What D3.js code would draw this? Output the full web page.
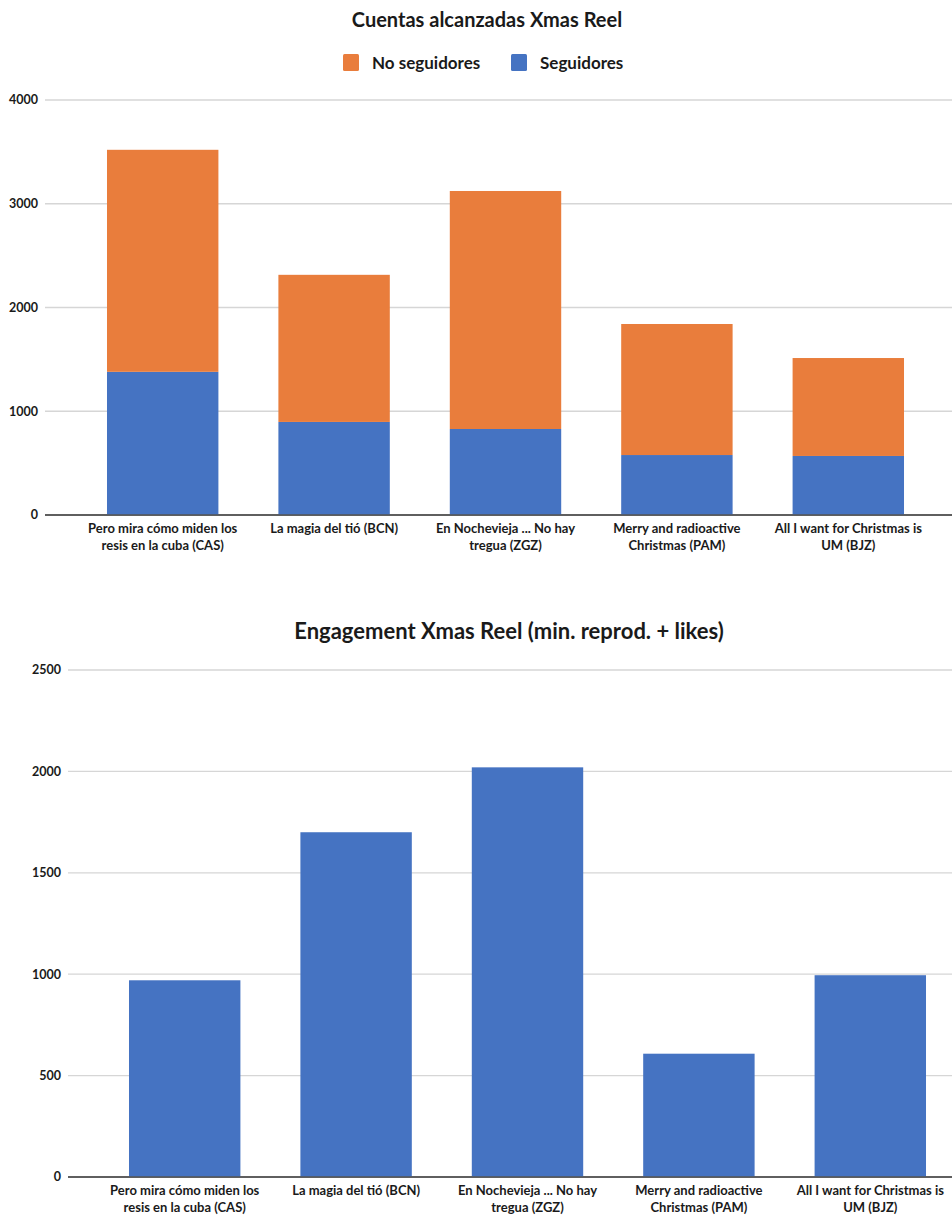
<!DOCTYPE html>
<html>
<head>
<meta charset="utf-8">
<script src="https://cdn.jsdelivr.net/npm/d3@7"></script>
<style>
  body { margin: 0; background: #fff; }
  svg text { font-family: Lato, "Open Sans", sans-serif; font-weight: 700; fill: #1a1a1a; }
</style>
</head>
<body>
<div id="chart"></div>
<script>
const categories = [
  "Pero mira cómo miden los\nresis en la cuba (CAS)",
  "La magia del tió (BCN)",
  "En Nochevieja ... No hay\ntregua (ZGZ)",
  "Merry and radioactive\nChristmas (PAM)",
  "All I want for Christmas is\nUM (BJZ)"
];
const seguidores = [1380, 897, 829, 578, 569];
const noSeguidores = [2140, 1418, 2294, 1263, 944];
const engagement = [970, 1700, 2020, 608, 995];
const reachTicks = [0, 1000, 2000, 3000, 4000];
const engagementTicks = [0, 500, 1000, 1500, 2000, 2500];

const orange = "#e97d3c";
const blue = "#4573c2";

const svg = d3.select("#chart").append("svg")
    .attr("width", 952)
    .attr("height", 1217);

function wrapLabels(sel) {
    sel.each(function(d) {
        const t = d3.select(this);
        const lines = d.split("\n");
        t.text(null);
        lines.forEach((l, i) => {
            t.append("tspan")
                .attr("x", 0)
                .attr("dy", i === 0 ? 0 : 17)
                .text(l);
        });
    });
}

function drawAxes(g, x, y, ticks, gridLeft, labelX) {
    const yAxis = g.append("g");
    yAxis.selectAll("line.grid")
        .data(ticks)
        .join("line")
        .attr("class", "grid")
        .attr("x1", gridLeft)
        .attr("x2", 952)
        .attr("y1", d => y(d))
        .attr("y2", d => y(d))
        .attr("stroke", d => d === 0 ? "#555" : "#d6d6d6")
        .attr("stroke-width", d => d === 0 ? 1.6 : 1.3);
    yAxis.selectAll("text.tick")
        .data(ticks)
        .join("text")
        .attr("class", "tick")
        .attr("x", labelX)
        .attr("y", d => y(d))
        .attr("dy", "0.35em")
        .attr("text-anchor", "end")
        .attr("font-size", 12.5)
        .text(d => d);
}

function drawXLabels(g, x, baseY) {
    g.append("g")
        .selectAll("text")
        .data(categories)
        .join("text")
        .attr("transform", d => `translate(${x(d) + x.bandwidth() / 2}, ${baseY + 18})`)
        .attr("text-anchor", "middle")
        .attr("font-size", 13)
        .call(wrapLabels);
}

// ---- chart 1: stacked reach ----
const g1 = svg.append("g");
const x1 = d3.scaleBand().domain(categories).range([77, 934]).paddingInner(0.35).paddingOuter(0.175);
const y1 = d3.scaleLinear().domain([0, 4000]).range([515, 100]);

g1.append("text")
    .attr("x", 487).attr("y", 27)
    .attr("text-anchor", "middle")
    .attr("font-size", 20)
    .text("Cuentas alcanzadas Xmas Reel");

const legendItems = [
    {label: "No seguidores", color: orange, x: 343},
    {label: "Seguidores", color: blue, x: 511}
];
const legend = g1.append("g").selectAll("g").data(legendItems).join("g")
    .attr("transform", d => `translate(${d.x}, 54)`);
legend.append("rect").attr("width", 16).attr("height", 17).attr("rx", 1.5).attr("fill", d => d.color);
legend.append("text").attr("x", 29).attr("y", 15).attr("font-size", 17).text(d => d.label);

drawAxes(g1, x1, y1, reachTicks, 45, 38);

const stackData = categories.map((c, i) => ({cat: c, seguidores: seguidores[i], noSeguidores: noSeguidores[i]}));
const stack = d3.stack().keys(["seguidores", "noSeguidores"])(stackData);
const colors = {seguidores: blue, noSeguidores: orange};

g1.append("g").selectAll("g")
    .data(stack)
    .join("g")
    .attr("fill", d => colors[d.key])
    .selectAll("rect")
    .data(d => d)
    .join("rect")
    .attr("x", d => x1(d.data.cat))
    .attr("width", x1.bandwidth())
    .attr("y", d => y1(d[1]))
    .attr("height", d => y1(d[0]) - y1(d[1]));

g1.append("line")
    .attr("x1", 45).attr("x2", 952)
    .attr("y1", y1(0)).attr("y2", y1(0))
    .attr("stroke", "#555").attr("stroke-width", 1.6);

drawXLabels(g1, x1, y1(0));

// ---- chart 2: engagement ----
const g2 = svg.append("g");
const x2 = d3.scaleBand().domain(categories).range([99, 956]).paddingInner(0.35).paddingOuter(0.175);
const y2 = d3.scaleLinear().domain([0, 2500]).range([1177, 670]);

g2.append("text")
    .attr("x", 509).attr("y", 639)
    .attr("text-anchor", "middle")
    .attr("font-size", 22)
    .text("Engagement Xmas Reel (min. reprod. + likes)");

drawAxes(g2, x2, y2, engagementTicks, 68, 61);

g2.append("g").selectAll("rect")
    .data(categories.map((c, i) => ({cat: c, value: engagement[i]})))
    .join("rect")
    .attr("x", d => x2(d.cat))
    .attr("width", x2.bandwidth())
    .attr("y", d => y2(d.value))
    .attr("height", d => y2(0) - y2(d.value))
    .attr("fill", blue);

g2.append("line")
    .attr("x1", 68).attr("x2", 952)
    .attr("y1", y2(0)).attr("y2", y2(0))
    .attr("stroke", "#555").attr("stroke-width", 1.6);

drawXLabels(g2, x2, y2(0));
</script>
</body>
</html>
